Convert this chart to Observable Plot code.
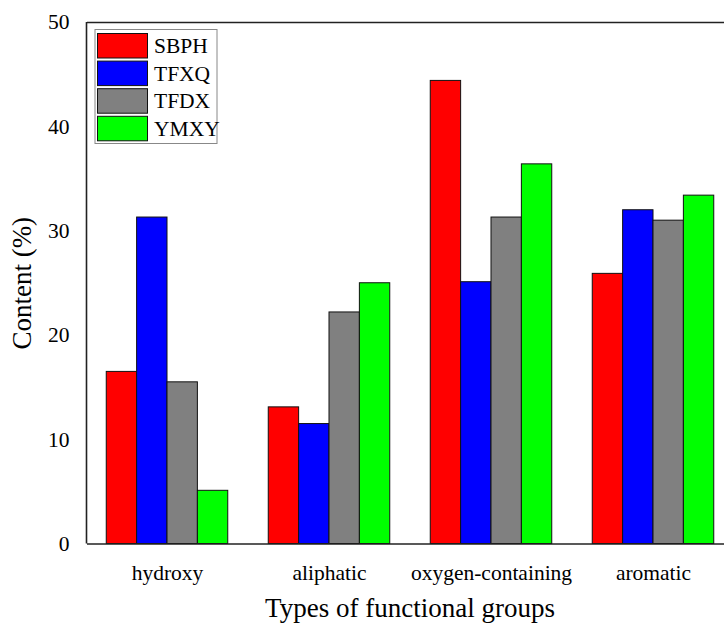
<!DOCTYPE html>
<html>
<head>
<meta charset="utf-8">
<script src="https://cdn.jsdelivr.net/npm/d3@7"></script>
<script src="https://cdn.jsdelivr.net/npm/@observablehq/plot@0.6"></script>
<style>
  html, body { margin: 0; padding: 0; background: #ffffff; }
  #chart { width: 724px; height: 623px; overflow: hidden; }
</style>
</head>
<body>
<div id="chart"></div>
<script>
// ---- data ----
const groups = ["hydroxy", "aliphatic", "oxygen-containing", "aromatic"];
const seriesNames = ["SBPH", "TFXQ", "TFDX", "YMXY"];
const SBPH = [16.5, 13.1, 44.4, 25.9];
const TFXQ = [31.3, 11.5, 25.1, 32.0];
const TFDX = [15.5, 22.2, 31.3, 31.0];
const YMXY = [5.1, 25.0, 36.4, 33.4];
const yTicks = [0, 10, 20, 30, 40, 50];
const xTitle = "Types of functional groups";
const yTitle = "Content (%)";

// ---- style ----
const colors = ["#ff0000", "#0000ff", "#808080", "#00ff00"];
const groupGap = 0.25;
const barW = (1 - groupGap) / seriesNames.length;
const serif = "'Liberation Serif', 'Times New Roman', serif";

const seriesValues = [SBPH, TFXQ, TFDX, YMXY];
const rows = [];
seriesNames.forEach((s, j) => {
  groups.forEach((g, i) => {
    rows.push({group: g, gi: i, series: s, sj: j, value: seriesValues[j][i]});
  });
});

const plot = Plot.plot({
  width: 724,
  height: 623,
  marginLeft: 87,
  marginRight: 0,
  marginTop: 22,
  marginBottom: 79.5,
  style: {fontFamily: serif, fontSize: "21.5px", background: "#ffffff", color: "#000"},
  x: {type: "linear", domain: [-0.5, groups.length - 0.5], range: [86, 734]},
  y: {type: "linear", domain: [0, 50]},
  color: {domain: seriesNames, range: colors},
  marks: [
    Plot.rectY(rows, {
      x1: d => d.gi - 0.5 + groupGap / 2 + d.sj * barW,
      x2: d => d.gi - 0.5 + groupGap / 2 + (d.sj + 1) * barW,
      y1: 0,
      y2: "value",
      fill: "series",
      stroke: "#111",
      strokeWidth: 1
    }),
    Plot.axisX({ticks: groups.map((g, i) => i), tickFormat: i => groups[i], tickSize: 0, tickPadding: 21, fontSize: 21.5, label: null}),
    Plot.axisY({ticks: yTicks, tickSize: 0, tickPadding: 18, fontSize: 21.5, label: null}),
    Plot.ruleY([0, 50], {stroke: "#222", strokeWidth: 1.6}),
    Plot.ruleX([-0.5], {stroke: "#222", strokeWidth: 1.6}),
    Plot.text([yTitle], {frameAnchor: "left", rotate: -90, dx: -65, fontSize: 27, text: d => d, textAnchor: "middle", lineAnchor: "middle"}),
    Plot.text([xTitle], {frameAnchor: "bottom", dy: 64, dx: 4, fontSize: 27, text: d => d, textAnchor: "middle", lineAnchor: "middle"})
  ]
});

// legend inside the plot area
const svg = d3.select(plot);
const color = plot.scale("color");
const lg = svg.append("g").attr("font-family", serif).attr("font-size", "21.5px").attr("text-anchor", "start");
lg.append("rect").attr("x", 95).attr("y", 29.5).attr("width", 122).attr("height", 114)
  .attr("fill", "#ffffff").attr("stroke", "#888").attr("stroke-width", 1);
seriesNames.forEach((s, k) => {
  const y0 = 33.5 + k * 27.6;
  lg.append("rect").attr("x", 97.5).attr("y", y0).attr("width", 50).attr("height", 24.5)
    .attr("fill", color.apply(s)).attr("stroke", "#111").attr("stroke-width", 1);
  lg.append("text").attr("x", 154).attr("y", y0 + 12.25).attr("dy", "0.35em")
    .attr("text-anchor", "start").attr("fill", "#000").text(s);
});

document.getElementById("chart").appendChild(plot);
</script>
</body>
</html>
